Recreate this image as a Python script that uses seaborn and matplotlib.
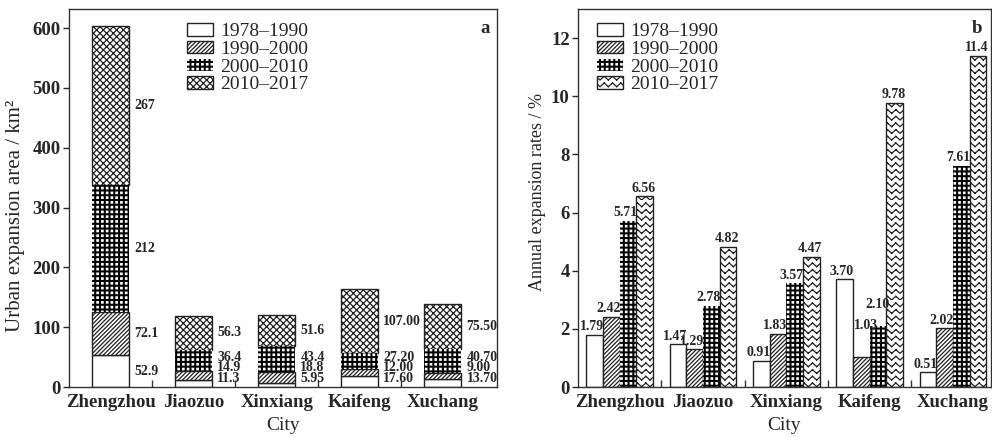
import numpy as np
import pandas as pd
import matplotlib
matplotlib.use("Agg")
import matplotlib.pyplot as plt
import matplotlib.hatch as mhatch
from matplotlib.path import Path
import seaborn as sns

# ---------------------------------------------------------------- data
cities = ["Zhengzhou", "Jiaozuo", "Xinxiang", "Kaifeng", "Xuchang"]
periods = ["1978–1990", "1990–2000", "2000–2010", "2010–2017"]

# urban expansion area (km²) in each period
area_1978_1990 = [52.9, 11.3, 5.95, 17.60, 13.70]
area_1990_2000 = [72.1, 14.9, 18.8, 12.00, 9.00]
area_2000_2010 = [212, 36.4, 43.4, 27.20, 40.70]
area_2010_2017 = [267, 56.3, 51.6, 107.00, 75.50]

# annual expansion rate (%) in each period
rate_1978_1990 = [1.79, 1.47, 0.91, 3.70, 0.51]
rate_1990_2000 = [2.42, 1.29, 1.83, 1.03, 2.02]
rate_2000_2010 = [5.71, 2.78, 3.57, 2.10, 7.61]
rate_2010_2017 = [6.56, 4.82, 4.47, 9.78, 11.4]

# number formats of the area labels, per city
area_formats = ["{:.3g}", "{:.3g}", "{:.3g}", "{:.2f}", "{:.2f}"]

area_df = pd.DataFrame({"City": cities,
                        periods[0]: area_1978_1990,
                        periods[1]: area_1990_2000,
                        periods[2]: area_2000_2010,
                        periods[3]: area_2010_2017})
rate_df = pd.DataFrame({"City": cities,
                        periods[0]: rate_1978_1990,
                        periods[1]: rate_1990_2000,
                        periods[2]: rate_2000_2010,
                        periods[3]: rate_2010_2017})
rate_long = rate_df.melt(id_vars="City", var_name="Period", value_name="Rate")


# ------------------------------------------------------- extra hatches
class SquareDots(mhatch.HatchPatternBase):
    """Regular grid of small filled squares ('s')."""

    def __init__(self, hatch, density):
        self.n = hatch.count("s") * 7
        self.num_vertices = self.n * self.n * 5
        self.size = 0.3

    def set_vertices_and_codes(self, vertices, codes):
        n = self.n
        h = self.size / n / 2
        centers = (np.arange(n) + 0.5) / n
        k = 0
        for cy in centers:
            for cx in centers:
                vertices[k:k + 5] = [(cx - h, cy - h), (cx + h, cy - h),
                                     (cx + h, cy + h), (cx - h, cy + h),
                                     (cx - h, cy - h)]
                codes[k:k + 5] = [Path.MOVETO, Path.LINETO, Path.LINETO,
                                  Path.LINETO, Path.CLOSEPOLY]
                k += 5


class ZigZag(mhatch.HatchPatternBase):
    """Rows of chevron zig-zag lines ('z')."""

    def __init__(self, hatch, density):
        c = hatch.count("z")
        self.rows = c * 5
        self.teeth = c * 4
        self.num_vertices = self.rows * self.teeth * 2 * 2

    def set_vertices_and_codes(self, vertices, codes):
        if self.num_vertices == 0:
            return
        amp = 0.55 / self.rows
        npts = 2 * self.teeth + 1
        xs = np.linspace(0, 1, npts)
        k = 0
        for r in range(self.rows):
            ys = r / self.rows + amp * (np.arange(npts) % 2)
            for j in range(npts - 1):
                vertices[k] = (xs[j], ys[j])
                vertices[k + 1] = (xs[j + 1], ys[j + 1])
                codes[k] = Path.MOVETO
                codes[k + 1] = Path.LINETO
                k += 2


mhatch._hatch_types.extend([SquareDots, ZigZag])
mhatch._validate_hatch_pattern = lambda hatch: None

# ------------------------------------------------------------- styling
sns.set_style("ticks")
plt.rcParams["font.family"] = ["Liberation Serif", "DejaVu Serif"]
plt.rcParams["hatch.linewidth"] = 0.9
plt.rcParams["axes.edgecolor"] = "#333333"
plt.rcParams["axes.linewidth"] = 1.0

# (face, edge, hatch, linewidth) for each period
left_styles = [("white", "#222222", None, 1.0),
               ("white", "#222222", "////////", 1.0),
               ("black", "white", "sss", 0.0),
               ("white", "#222222", "xxxxx", 1.0)]
right_styles = [("white", "#222222", None, 1.0),
                ("white", "#222222", "////////", 1.0),
                ("black", "white", "sss", 0.0),
                ("white", "#222222", "zzz", 1.0)]

TICK_FS = 13.5
LEGEND_FS = 14
LABEL_FS = 10

fig = plt.figure(figsize=(9.92, 4.37), dpi=100)
axL = fig.add_axes([69 / 992, 1 - 387 / 437, (497 - 69) / 992, (387 - 9) / 437])
axR = fig.add_axes([578 / 992, 1 - 387 / 437, (990.5 - 578) / 992, (387 - 9) / 437])

# --------------------------------------------------- (a) stacked areas
bottom = np.zeros(len(cities))
for period, (fc, ec, hatch, lw) in zip(periods, left_styles):
    sns.barplot(data=area_df, x="City", y=period, order=cities, ax=axL,
                width=0.445, errorbar=None, color=fc, edgecolor=ec,
                hatch=hatch, linewidth=lw, bottom=bottom.copy(), label=period)
    bottom += area_df[period].to_numpy(dtype=float)

for p in axL.containers[2].patches:
    p.set_zorder(1.5)

# value labels to the right of each stack, pushed apart where crowded
stack = area_df[periods].to_numpy(dtype=float)
for i, city in enumerate(cities):
    vals = stack[i]
    tops = np.cumsum(vals)
    mids = tops - vals / 2
    prev = -np.inf
    ref = axL.containers[0].patches[i]
    right_edge = ref.get_x() + ref.get_width()
    for v, m in zip(vals, mids):
        y = max(m, prev + 18, 14)
        prev = y
        axL.annotate(area_formats[i].format(v), (right_edge, y),
                     xytext=(3.6, 0), textcoords="offset points",
                     ha="left", va="center", fontsize=LABEL_FS,
                     fontweight="bold")

axL.set_ylim(0, 632)
axL.set_yticks(np.arange(0, 601, 100))
axL.set_xlim(-0.5, 4.65)
axL.set_ylabel("Urban expansion area / km²", fontsize=15)
axL.yaxis.set_label_coords(-0.103, 0.452)
axL.text(0.984, 0.972, "a", transform=axL.transAxes, ha="right", va="top",
         fontsize=TICK_FS, fontweight="bold")
axL.legend(handles=[c.patches[0] for c in axL.containers],
           labels=periods, loc="upper left",
           bbox_to_anchor=(0.275, 0.962), frameon=False,
           fontsize=LEGEND_FS, handlelength=1.35, handleheight=0.6,
           handletextpad=0.35, labelspacing=0.03, borderpad=0,
           borderaxespad=0)

# ------------------------------------------------ (b) grouped rates
sns.barplot(data=rate_long, x="City", y="Rate", hue="Period",
            order=cities, hue_order=periods, ax=axR, width=0.8,
            errorbar=None, palette=["white"] * 4, edgecolor="#222222",
            linewidth=1.0, legend=False)

for cont, (fc, ec, hatch, lw) in zip(axR.containers, right_styles):
    for p in cont.patches:
        p.set_facecolor(fc)
        p.set_edgecolor(ec)
        p.set_hatch(hatch)
        p.set_linewidth(lw)

# small nudges (points) for labels that would collide
nudges = {("Kaifeng", periods[1]): (5.5, 17.0),
          ("Kaifeng", periods[2]): (2.0, 9.5)}

for cont, period in zip(axR.containers, periods):
    for city, p in zip(cities, cont.patches):
        h = p.get_height()
        txt = f"{h:.1f}" if h >= 10 else f"{h:.2f}"
        dx, dy = nudges.get((city, period), (0.0, 0.0))
        base_dx = -2.0 if period != periods[3] else -0.8
        axR.annotate(txt, (p.get_x() + p.get_width() / 2, h),
                     xytext=(base_dx + dx, 1.2 + dy),
                     textcoords="offset points", ha="center", va="bottom",
                     fontsize=LABEL_FS, fontweight="bold")

axR.set_ylim(0, 13)
axR.set_yticks(np.arange(0, 13, 2))
axR.set_xlim(-0.5, 4.45)
axR.set_ylabel("Annual expansion rates / %", fontsize=13)
axR.yaxis.set_label_coords(-0.078, 0.517)
axR.text(0.979, 0.972, "b", transform=axR.transAxes, ha="right", va="top",
         fontsize=TICK_FS, fontweight="bold")
axR.legend(handles=[c.patches[0] for c in axR.containers],
           labels=periods, loc="upper left",
           bbox_to_anchor=(0.046, 0.962), frameon=False,
           fontsize=LEGEND_FS, handlelength=1.35, handleheight=0.6,
           handletextpad=0.35, labelspacing=0.03, borderpad=0,
           borderaxespad=0)

# ------------------------------------------------------ shared axes look
for ax in (axL, axR):
    for side in ("top", "right", "bottom", "left"):
        ax.spines[side].set_visible(True)
    ax.set_xlabel("City", fontsize=14)
    ax.tick_params(axis="y", direction="out", length=4, width=1,
                   labelsize=TICK_FS, pad=2)
    ax.tick_params(axis="x", which="major", length=0, labelsize=TICK_FS, pad=5)
    ax.set_xticks([0.5, 1.5, 2.5, 3.5], minor=True)
    ax.tick_params(axis="x", which="minor", direction="in", length=5,
                   width=1, color="#333333")
    for lab in ax.get_xticklabels() + ax.get_yticklabels():
        lab.set_fontweight("bold")
    ax.xaxis.labelpad = 4

fig.savefig("out.png", dpi=100)
